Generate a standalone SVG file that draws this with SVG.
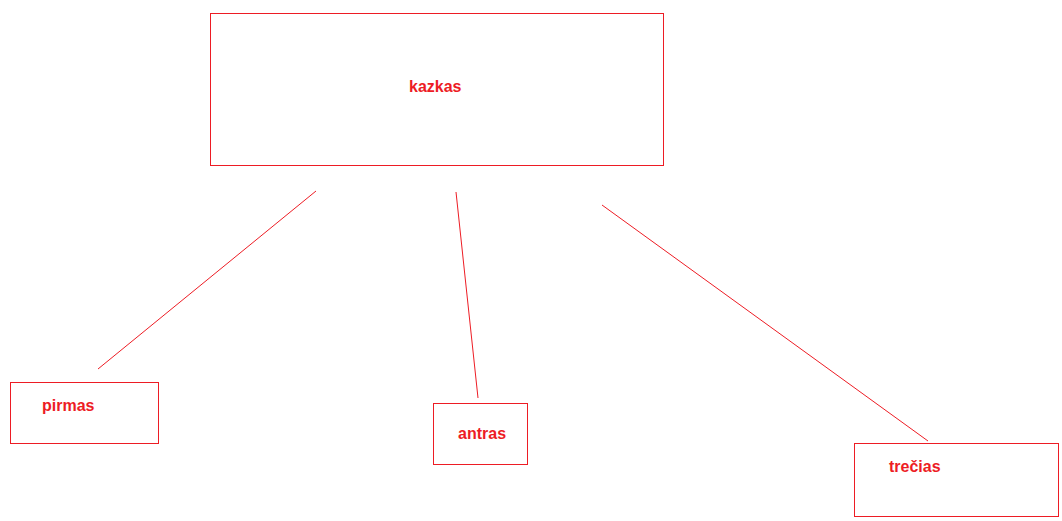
<svg xmlns="http://www.w3.org/2000/svg" width="1062" height="521" viewBox="0 0 1062 521">
<style>
.box{fill:#fff;stroke:#ED1C24;stroke-width:1}
.lbl{fill:#ED1C24;font-family:"Liberation Sans",Arial,sans-serif;font-weight:bold;font-size:16px}
.conn{stroke:#ED1C24;stroke-width:1;fill:none}
</style>
<rect width="1062" height="521" fill="#fff"/>
<g id="connectors">
<line class="conn" x1="316" y1="191" x2="98" y2="369"/>
<line class="conn" x1="456" y1="192" x2="478" y2="398"/>
<line class="conn" x1="602" y1="205" x2="928" y2="441"/>
</g>
<g id="kazkas">
<rect class="box" x="210.5" y="13.5" width="453" height="152"/>
<text class="lbl" x="409" y="92">kazkas</text>
</g>
<g id="pirmas">
<rect class="box" x="10.5" y="382.5" width="148" height="61"/>
<text class="lbl" x="42" y="411">pirmas</text>
</g>
<g id="antras">
<rect class="box" x="433.5" y="403.5" width="94" height="61"/>
<text class="lbl" x="458" y="439">antras</text>
</g>
<g id="trecias">
<rect class="box" x="854.5" y="443.5" width="204" height="73"/>
<text class="lbl" x="889" y="472">trečias</text>
</g>
</svg>
